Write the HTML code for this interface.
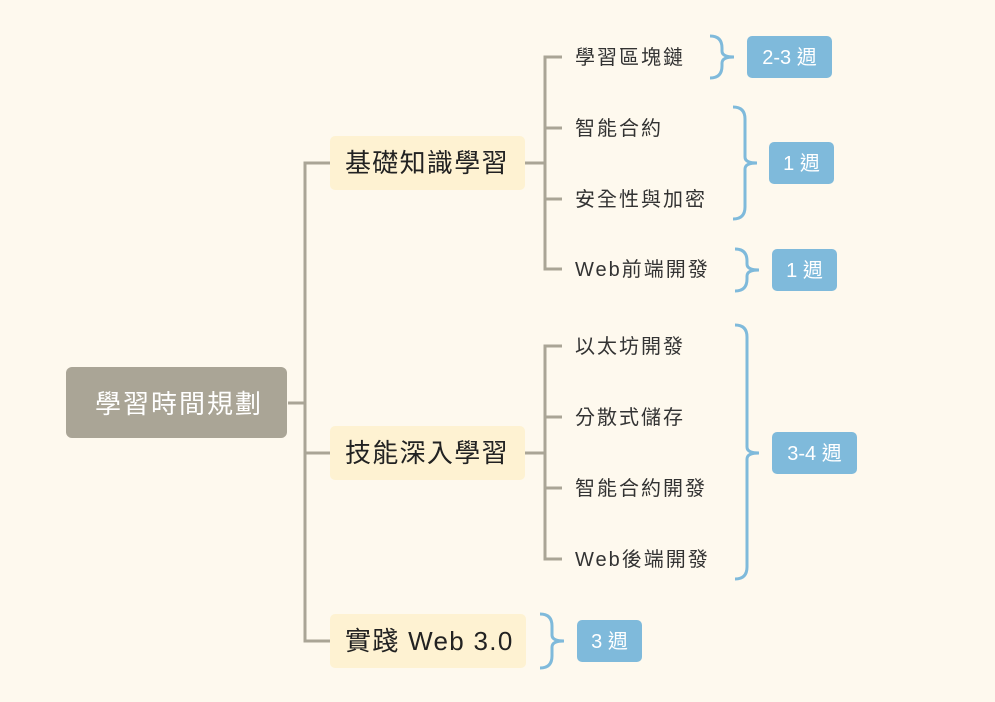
<!DOCTYPE html>
<html><head><meta charset="utf-8"><style>
html,body{margin:0;padding:0;background:#fef9ee;}
svg{display:block}
text{font-family:"Liberation Sans","Noto Sans CJK TC",sans-serif;}
</style></head><body>
<svg width="995" height="702" viewBox="0 0 995 702" xmlns="http://www.w3.org/2000/svg">
<rect width="995" height="702" fill="#fef9ee"/>
<g stroke="#aaa596" stroke-width="3" fill="none">
<path d="M288 403 H305"/>
<path d="M330 163 H305 V641 H330"/>
<path d="M305 453 H330"/>
<path d="M525 163 H545"/>
<path d="M562 57 H545 V269 H562 M545 128 H562 M545 199 H562"/>
<path d="M525 453 H545"/>
<path d="M562 346 H545 V559 H562 M545 417 H562 M545 488 H562"/>
</g>
<g stroke="#7fbadb" stroke-width="3" fill="none">
<path d="M710 36 Q722 36 722 48 L722 51 Q722 57 734 57 Q722 57 722 63 L722 66 Q722 78 710 78"/>
<path d="M733 107 Q745 107 745 119 L745 157 Q745 163 757 163 Q745 163 745 169 L745 207 Q745 219 733 219"/>
<path d="M735 249 Q747 249 747 261 L747 264 Q747 270 759 270 Q747 270 747 276 L747 279 Q747 291 735 291"/>
<path d="M735 325 Q747 325 747 337 L747 447 Q747 453 759 453 Q747 453 747 459 L747 567 Q747 579 735 579"/>
<path d="M540 614 Q552 614 552 626 L552 635 Q552 641 564 641 Q552 641 552 647 L552 656 Q552 668 540 668"/>
</g>
<rect x="66" y="367" width="221" height="71" rx="6" fill="#aaa596"/>
<text x="95" y="413" font-size="26" fill="#fff" letter-spacing="2">學習時間規劃</text>
<g fill="#fef2d2">
<rect x="330" y="136" width="195" height="54" rx="5"/>
<rect x="330" y="426" width="195" height="54" rx="5"/>
<rect x="330" y="614" width="196" height="54" rx="5"/>
</g>
<g font-size="26" fill="#222" letter-spacing="1.3">
<text x="345" y="172">基礎知識學習</text>
<text x="345" y="462">技能深入學習</text>
<text x="345" y="650">實踐 Web 3.0</text>
</g>
<g font-size="20" fill="#333" letter-spacing="2">
<text x="575" y="64">學習區塊鏈</text>
<text x="575" y="135">智能合約</text>
<text x="575" y="206">安全性與加密</text>
<text x="575" y="276">Web前端開發</text>
<text x="575" y="353">以太坊開發</text>
<text x="575" y="424">分散式儲存</text>
<text x="575" y="495">智能合約開發</text>
<text x="575" y="566">Web後端開發</text>
</g>
<g fill="#7fbadb">
<rect x="747" y="36" width="85" height="42" rx="5"/>
<rect x="769" y="142" width="65" height="42" rx="5"/>
<rect x="772" y="249" width="65" height="42" rx="5"/>
<rect x="772" y="432" width="85" height="42" rx="5"/>
<rect x="577" y="620" width="65" height="42" rx="5"/>
</g>
<g font-size="20" fill="#fff" text-anchor="middle">
<text x="789.5" y="64">2-3 週</text>
<text x="801.5" y="170">1 週</text>
<text x="804.5" y="277">1 週</text>
<text x="814.5" y="460">3-4 週</text>
<text x="609.5" y="648">3 週</text>
</g>
</svg>
</body></html>
